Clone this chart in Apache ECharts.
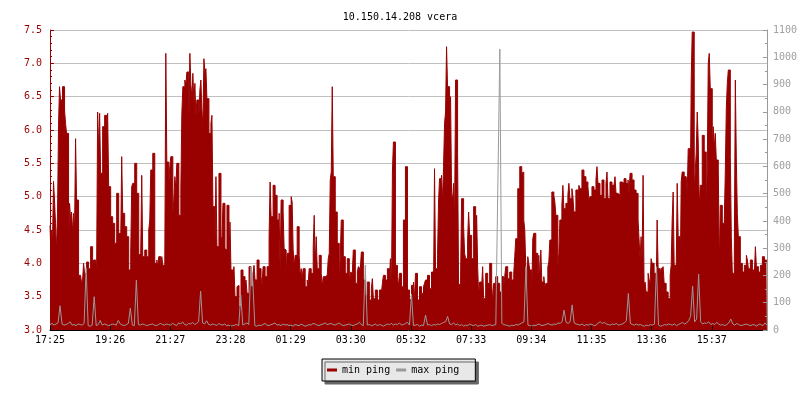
<!DOCTYPE html>
<html>
<head>
<meta charset="utf-8">
<script src="https://cdn.jsdelivr.net/npm/echarts@6/dist/echarts.min.js"></script>
<style>html,body{margin:0;padding:0;background:#fff}#c{width:800px;height:400px}</style>
</head>
<body>
<div id="c"></div>
<script>
const titleText = '10.150.14.208 vcera';
const timeLabels = ['17:25','19:26','21:27','23:28','01:29','03:30','05:32','07:33','09:34','11:35','13:36','15:37'];
const seriesNames = ['min ping', 'max ping'];

// min ping (left axis), one value per ~1 minute column
const minPing = [
4.57,4.32,4.5,4.3,5.23,4.95,4.6,4.2,4.75,6.07,6.65,6.45,6.45,6.65,6.65,6.3,6.1,5.95,5.95,4.2,
4.9,4.67,4.77,4.47,4.75,4.5,5.87,4.95,4.95,3.82,3.82,3.8,3.7,3.75,4.0,3.85,3.85,4.02,4.02,3.92,
3.92,4.25,4.25,4.0,4.05,4.05,4.05,3.9,6.27,5.7,6.25,5.35,5.35,6.05,6.05,6.22,6.22,6.0,6.25,5.15,
5.15,4.7,4.7,4.6,4.6,4.3,4.3,5.05,5.05,4.45,4.45,4.3,5.6,4.75,4.75,4.55,4.55,4.4,4.4,3.9,
3.9,4.15,5.15,5.2,5.2,5.5,5.5,5.05,5.05,4.12,4.15,4.2,5.32,4.1,4.1,4.2,4.2,4.1,4.1,4.5,
4.65,5.4,5.4,5.65,5.65,4.0,4.0,4.05,3.95,4.1,4.1,3.95,4.1,3.97,3.97,4.05,7.15,5.52,5.52,5.2,
5.45,5.6,5.6,4.75,4.95,5.3,5.12,5.5,5.5,4.72,4.72,5.12,6.25,6.65,6.65,6.75,6.67,6.87,6.87,6.1,
7.15,6.67,6.5,6.85,6.4,6.7,6.2,6.45,6.45,6.2,6.6,6.75,6.3,6.05,7.07,6.85,6.92,6.47,6.47,5.95,
5.95,6.1,6.22,4.85,4.85,4.3,5.3,4.25,4.25,5.35,5.35,4.4,4.35,4.9,4.9,4.22,4.2,4.87,4.87,4.05,
4.62,3.9,3.9,3.85,3.95,3.5,3.5,3.65,3.67,3.35,3.35,3.9,3.9,3.8,3.8,3.7,3.75,3.55,3.55,3.95,
3.95,3.65,3.65,3.85,3.97,3.75,3.75,4.05,4.05,3.92,3.92,3.8,3.67,3.95,3.95,3.8,3.8,3.95,3.95,4.4,
5.22,4.7,4.7,5.17,5.17,5.02,5.02,4.65,4.65,4.75,3.9,4.95,4.95,4.77,4.22,4.2,3.82,4.15,4.15,4.87,
4.87,5.0,4.92,4.2,3.95,4.12,4.12,4.55,4.55,4.12,3.8,3.92,3.77,3.92,3.92,3.65,3.65,3.75,3.7,3.92,
3.92,3.85,3.85,4.25,4.72,3.95,4.4,3.92,3.92,4.12,4.12,3.85,3.65,3.8,3.8,3.82,3.82,3.8,4.07,4.15,
5.25,5.37,6.65,5.3,5.3,4.77,4.77,4.3,4.3,3.65,4.1,4.65,4.65,4.1,4.1,3.85,3.85,4.07,4.07,3.65,
3.87,3.85,3.85,4.2,4.2,3.7,3.7,3.87,3.95,3.92,3.92,4.17,4.17,3.75,3.75,3.52,3.52,3.72,3.72,3.45,
3.45,3.62,3.77,3.47,3.47,3.6,3.6,3.45,3.45,3.6,3.6,3.55,3.7,3.82,3.82,3.75,3.75,3.92,3.92,3.75,
4.07,3.52,5.37,5.82,5.82,3.97,3.97,3.8,3.65,3.85,3.85,3.65,3.65,4.65,4.65,5.45,5.45,3.6,3.6,3.47,
3.45,3.67,3.67,3.72,3.45,3.85,3.85,3.45,3.45,3.65,3.65,3.55,3.55,3.65,3.7,3.75,3.75,3.82,3.82,3.62,
3.62,3.87,3.87,3.65,5.42,3.92,3.92,4.12,4.92,5.27,5.27,5.32,4.92,5.45,6.1,6.27,7.25,6.65,6.65,6.3,
6.5,5.05,4.95,5.2,4.65,6.75,6.75,5.65,3.67,3.7,3.82,4.97,4.97,4.55,4.15,4.07,4.07,4.35,4.77,4.42,
4.42,4.07,4.07,4.85,4.85,4.5,4.72,3.95,3.52,3.72,3.72,3.65,3.95,3.47,3.47,3.85,3.85,3.7,3.7,4.0,
4.0,3.7,3.42,3.7,3.7,3.8,3.8,3.7,3.7,3.57,3.57,3.8,3.8,3.65,3.8,3.95,3.95,3.77,3.77,3.87,
3.87,3.75,3.75,3.85,4.1,4.37,4.37,5.12,5.12,5.45,5.45,5.35,5.37,4.65,4.5,3.95,3.55,4.1,4.0,3.9,
3.9,3.55,4.37,4.45,4.45,4.15,4.15,3.77,4.12,3.75,4.2,3.72,3.72,3.8,3.65,3.7,3.7,3.95,4.02,4.35,
4.35,5.07,5.07,5.02,4.92,4.72,4.72,3.95,4.15,4.65,4.65,4.87,5.17,4.82,4.82,4.9,4.9,5.02,5.2,4.97,
4.97,5.12,5.0,4.77,4.77,5.1,5.1,4.9,5.17,5.12,5.12,5.4,5.4,5.3,5.3,5.22,5.22,5.15,4.95,5.0,
5.0,5.15,5.15,5.1,5.1,5.25,5.45,5.2,5.2,5.02,5.02,5.25,5.25,4.97,4.97,5.2,5.37,4.97,4.97,5.22,
5.22,5.17,5.17,5.15,5.3,5.05,5.05,5.02,5.02,5.22,5.22,5.2,5.2,5.27,5.27,5.2,5.2,5.25,5.05,5.35,
5.35,5.25,5.25,5.1,5.1,5.05,5.05,4.65,4.35,4.05,4.4,4.07,5.32,3.65,3.72,3.57,3.57,3.85,3.75,3.7,
4.07,4.0,4.0,3.85,3.85,3.5,4.65,3.92,3.92,3.8,3.92,3.95,3.95,3.7,3.7,3.57,3.57,3.47,3.47,3.82,
3.97,4.65,5.07,3.97,3.97,3.85,5.2,4.4,4.4,3.65,5.22,5.37,5.37,5.3,5.3,5.3,5.05,5.72,5.72,4.87,
6.75,7.47,7.47,5.07,5.37,5.67,6.27,5.82,4.82,5.17,5.17,5.92,5.92,5.67,5.67,4.67,5.45,7.0,7.15,6.62,
6.62,5.72,6.05,5.72,5.95,5.55,5.55,5.4,3.95,4.87,4.87,4.6,4.6,4.65,5.37,6.32,6.7,6.9,6.9,5.6,
4.4,3.85,3.85,4.2,6.75,5.55,4.75,4.4,4.4,4.0,4.0,3.87,3.87,3.97,3.97,4.12,4.05,3.92,3.92,4.05,
4.05,3.9,3.9,3.85,4.25,3.95,3.95,3.87,3.87,3.97,3.97,4.1,4.1,4.05,4.05,4.02
];

// max ping (right axis), one value per ~2 minutes
const maxPing = [
20,24,18,22,26,89,22,18,20,24,
30,18,20,16,22,20,18,24,227,16,
14,18,122,16,20,35,18,22,20,16,
18,22,20,18,35,22,18,16,20,24,
80,18,16,183,20,18,22,20,16,18,
20,22,18,16,20,24,20,18,22,20,
18,24,20,16,26,22,30,20,18,24,
22,28,20,24,30,143,26,22,34,20,
18,22,20,16,24,20,18,22,16,18,
14,16,18,20,16,128,18,22,26,20,
232,177,16,14,18,16,20,24,18,16,
20,22,26,18,20,16,22,18,20,16,
18,14,20,18,16,22,18,14,16,20,
18,24,22,18,16,20,22,26,20,22,
24,20,18,22,26,20,16,18,20,22,
18,16,20,22,28,20,16,238,18,20,
16,18,22,16,20,18,14,18,22,20,
24,18,22,20,26,18,20,24,28,18,
132,16,18,20,14,18,16,55,18,20,
16,20,18,22,20,24,28,30,50,22,
20,26,18,22,16,20,14,18,16,22,
18,16,20,14,16,18,14,16,18,20,
16,18,20,520,1030,24,20,18,16,14,
18,16,20,18,22,26,30,232,18,16,
14,18,16,22,20,16,18,20,24,20,
18,22,20,26,24,30,73,28,24,30,
92,26,22,20,18,22,16,20,18,22,
20,16,18,26,30,24,28,22,20,18,
22,20,24,18,20,22,26,34,134,24,
20,18,22,18,20,16,14,18,16,20,
18,22,232,18,14,16,20,18,22,20,
18,22,16,20,24,28,22,26,34,50,
161,30,40,205,30,22,26,24,30,20,
24,20,28,22,18,20,16,20,26,40,
22,18,24,20,16,18,20,22,18,16,
20,18,14,22,20,16,26,18
];

const minCats = minPing.map((_, i) => String(i));
const maxCats = maxPing.map((_, i) => String(i));
const LABEL_EVERY = 60;
const FONT = 'DejaVu Sans Mono';
const RED = '#990000';
const GRAY = '#999999';

const chart = echarts.init(document.getElementById('c'), null, {renderer: 'canvas'});
chart.setOption({
  animation: false,
  backgroundColor: '#ffffff',
  title: {
    text: titleText, left: 'center', top: 7,
    textStyle: {fontFamily: FONT, fontSize: 10, fontWeight: 'normal', color: '#000'}
  },
  legend: {
    data: [{name: seriesNames[0], icon: 'rect'}, {name: seriesNames[1], icon: 'rect'}],
    left: 322, top: 359, zlevel: 3,
    itemWidth: 10, itemHeight: 3, itemGap: 6,
    padding: [6, 16, 6, 5],
    backgroundColor: '#e8e8e8', borderColor: '#000', borderWidth: 1,
    shadowColor: '#666666', shadowOffsetX: 3, shadowOffsetY: 3, shadowBlur: 0,
    selectedMode: false,
    textStyle: {fontFamily: FONT, fontSize: 10, color: '#000'}
  },
  grid: {left: 50, right: 30, top: 30, bottom: 70, containLabel: false},
  xAxis: [
    {
      type: 'category', data: minCats, boundaryGap: false, zlevel: 2,
      axisLine: {onZero: false, lineStyle: {color: '#000', width: 1}},
      axisTick: {inside: true, length: 4, interval: LABEL_EVERY - 1, lineStyle: {color: '#000'}},
      axisLabel: {
        interval: LABEL_EVERY - 1, margin: 5, color: '#000', fontFamily: FONT, fontSize: 10,
        formatter: (v, idx) => (idx % LABEL_EVERY === 0 ? (timeLabels[idx / LABEL_EVERY] || '') : '')
      },
      splitLine: {show: false}
    },
    {
      type: 'category', data: maxCats, boundaryGap: false, show: false
    }
  ],
  yAxis: [
    {
      type: 'value', position: 'left', min: 3, max: 7.5, interval: 0.5, zlevel: 0, z: 0,
      axisLine: {show: true, lineStyle: {color: RED}},
      axisTick: {show: true, inside: true, length: 4, lineStyle: {color: RED}},
      minorTick: {show: true, splitNumber: 5, length: 2, lineStyle: {color: RED}},
      axisLabel: {color: RED, fontFamily: FONT, fontSize: 10, margin: 8, formatter: v => v.toFixed(1)},
      splitLine: {show: true, lineStyle: {color: '#c0c0c0', width: 1}}
    },
    {
      type: 'value', position: 'right', min: 0, max: 1100, interval: 100, zlevel: 2,
      axisLine: {show: true, lineStyle: {color: GRAY}},
      axisTick: {show: true, inside: true, length: 4, lineStyle: {color: GRAY}},
      minorTick: {show: true, splitNumber: 2, length: 2, lineStyle: {color: GRAY}},
      axisLabel: {color: '#a0a0a0', fontFamily: FONT, fontSize: 10, margin: 6, formatter: v => String(v)},
      splitLine: {show: false}
    }
  ],
  series: [
    {
      name: seriesNames[0], type: 'line', step: 'middle', xAxisIndex: 0, yAxisIndex: 0,
      data: minPing, symbol: 'none', color: RED, zlevel: 1, z: 2,
      lineStyle: {width: 1, color: RED},
      areaStyle: {color: RED, opacity: 1, origin: 'start'}
    },
    {
      name: seriesNames[1], type: 'line', xAxisIndex: 1, yAxisIndex: 1,
      data: maxPing, symbol: 'none', color: GRAY, zlevel: 1, z: 3,
      lineStyle: {width: 1, color: GRAY}
    }
  ]
});
</script>
</body>
</html>
